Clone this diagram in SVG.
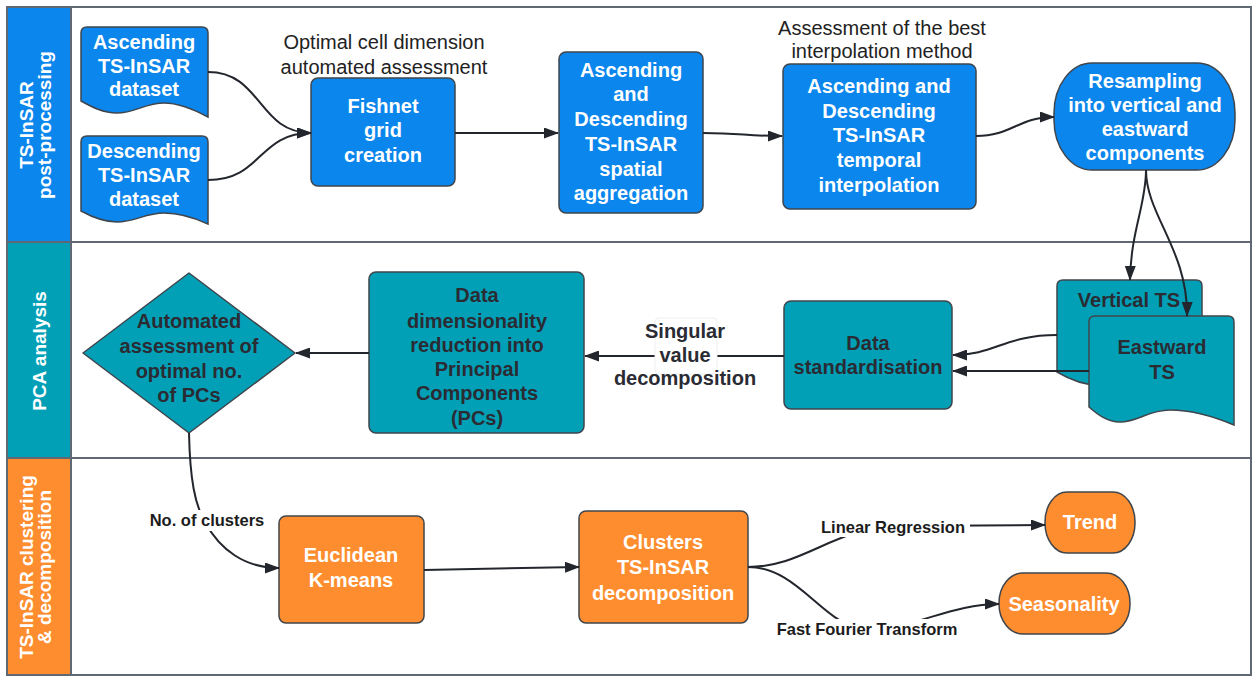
<svg xmlns="http://www.w3.org/2000/svg" width="1253" height="676" viewBox="0 0 1253 676">
<defs>
<marker id="arr" markerWidth="15" markerHeight="11" refX="14" refY="5.5" orient="auto" markerUnits="userSpaceOnUse">
<path d="M0,0 L15,5.5 L0,11 Z" fill="#23262d"/>
</marker>
<style>
.lane{fill:#ffffff;stroke:#5f6873;stroke-width:2}
.sep{stroke:#5f6873;stroke-width:2;fill:none}
.hb{fill:#0b86ec}.ht{fill:#02a0b6}.ho{fill:#fe8d2f}
.nb{fill:#0b86ec;stroke:#3f454c;stroke-width:1.5}
.nt{fill:#02a0b6;stroke:#3f454c;stroke-width:1.5}
.no{fill:#fe8d2f;stroke:#3f454c;stroke-width:1.5}
text{font-family:"Liberation Sans",Arial,sans-serif;text-anchor:middle}
.tw{fill:#ffffff;font-size:20px;font-weight:bold}
.td{fill:#2a2b33;font-size:20px;font-weight:bold}
.hd{fill:#ffffff;font-size:19px;font-weight:bold}
.lab{fill:#222222;font-size:20px}
.cl{fill:#1c1c1c;font-size:16.5px;font-weight:bold}
.c{fill:none;stroke:#23262d;stroke-width:2}
.bg{fill:#ffffff}
</style>
</defs>

<g id="lanes">
<rect class="lane" x="7" y="7" width="1244" height="668"/>
<rect class="hb" x="7" y="7" width="64" height="235"/>
<rect class="ht" x="7" y="242" width="64" height="216"/>
<rect class="ho" x="7" y="458" width="64" height="217"/>
<rect x="7" y="7" width="1244" height="668" fill="none" stroke="#5f6873" stroke-width="2"/>
<path class="sep" d="M7,242 H1251 M7,458 H1251 M71,7 V675"/>
<text class="hd" transform="translate(0,125) rotate(-90)"><tspan x="0" y="33">TS-InSAR</tspan><tspan x="0" y="51">post-processing</tspan></text>
<text class="hd" transform="translate(0,351) rotate(-90)" x="0" y="46">PCA analysis</text>
<text class="hd" transform="translate(0,567) rotate(-90)"><tspan x="0" y="33">TS-InSAR clustering</tspan><tspan x="0" y="51">&amp; decomposition</tspan></text>
</g>

<g id="asc-dataset">
<path class="nb" d="M87,27 L202,27 Q208,27 208,33 L208,117 C195,110 180,103 164,103 C145,103 135,113 117,113 C103,113 92,107 81,101 L81,33 Q81,27 87,27 Z"/>
<text class="tw"><tspan x="144" y="49">Ascending</tspan><tspan x="144" y="73">TS-InSAR</tspan><tspan x="144" y="96">dataset</tspan></text>
</g>
<g id="desc-dataset">
<path class="nb" d="M87,136 L202,136 Q208,136 208,142 L208,224 C195,218 180,213 164,213 C145,213 135,222 117,222 C103,222 92,217 81,211 L81,142 Q81,136 87,136 Z"/>
<text class="tw"><tspan x="144" y="158">Descending</tspan><tspan x="144" y="182">TS-InSAR</tspan><tspan x="144" y="206">dataset</tspan></text>
</g>
<g id="fishnet">
<text class="lab"><tspan x="384" y="49">Optimal cell dimension</tspan><tspan x="384" y="74">automated assessment</tspan></text>
<rect class="nb" x="311" y="78" width="144" height="108" rx="7"/>
<text class="tw"><tspan x="383" y="113">Fishnet</tspan><tspan x="383" y="137">grid</tspan><tspan x="383" y="162">creation</tspan></text>
</g>
<g id="spatial-aggregation">
<rect class="nb" x="559" y="52" width="144" height="161" rx="7"/>
<text class="tw"><tspan x="631" y="77">Ascending</tspan><tspan x="631" y="101">and</tspan><tspan x="631" y="126">Descending</tspan><tspan x="631" y="151">TS-InSAR</tspan><tspan x="631" y="176">spatial</tspan><tspan x="631" y="200">aggregation</tspan></text>
</g>
<g id="temporal-interpolation">
<text class="lab"><tspan x="882" y="35">Assessment of the best</tspan><tspan x="882" y="58">interpolation method</tspan></text>
<rect class="nb" x="783" y="64" width="193" height="145" rx="7"/>
<text class="tw"><tspan x="879" y="93">Ascending and</tspan><tspan x="879" y="118">Descending</tspan><tspan x="879" y="142">TS-InSAR</tspan><tspan x="879" y="167">temporal</tspan><tspan x="879" y="192">interpolation</tspan></text>
</g>
<g id="resampling">
<rect class="nb" x="1054" y="63" width="181" height="107" rx="38" ry="50"/>
<text class="tw"><tspan x="1145" y="88">Resampling</tspan><tspan x="1145" y="112">into vertical and</tspan><tspan x="1145" y="136">eastward</tspan><tspan x="1145" y="160">components</tspan></text>
</g>

<g id="vertical-ts">
<path class="nt" d="M1063,280 L1196,280 Q1202,280 1202,286 L1202,390 C1187,383 1170,375 1151,375 C1128,375 1118,385 1098,385 C1082,385 1069,379 1057,372 L1057,286 Q1057,280 1063,280 Z"/>
<text class="td" x="1129" y="307">Vertical TS</text>
</g>
<g id="eastward-ts">
<path class="nt" d="M1095,316 L1228,316 Q1234,316 1234,322 L1234,425 C1215,417 1190,410 1170,410 C1148,410 1138,422 1120,422 C1107,422 1097,414 1089,407 L1089,322 Q1089,316 1095,316 Z"/>
<text class="td"><tspan x="1162" y="354">Eastward</tspan><tspan x="1162" y="379">TS</tspan></text>
</g>
<g id="standardisation">
<rect class="nt" x="784" y="301" width="168" height="108" rx="7"/>
<text class="td"><tspan x="868" y="350">Data</tspan><tspan x="868" y="374">standardisation</tspan></text>
</g>
<g id="dimensionality-reduction">
<rect class="nt" x="369" y="272" width="215" height="161" rx="7"/>
<text class="td"><tspan x="477" y="302">Data</tspan><tspan x="477" y="328">dimensionality</tspan><tspan x="477" y="352">reduction into</tspan><tspan x="477" y="376">Principal</tspan><tspan x="477" y="400">Components</tspan><tspan x="477" y="425">(PCs)</tspan></text>
</g>
<g id="optimal-pcs">
<path class="nt" stroke-linejoin="round" d="M189,273 L295,353 L189,433 L83,353 Z"/>
<text class="td"><tspan x="189" y="328">Automated</tspan><tspan x="189" y="353">assessment of</tspan><tspan x="189" y="378">optimal no.</tspan><tspan x="189" y="402">of PCs</tspan></text>
</g>

<g id="kmeans">
<rect class="no" x="279" y="516" width="145" height="107" rx="7"/>
<text class="tw"><tspan x="351" y="562">Euclidean</tspan><tspan x="351" y="587">K-means</tspan></text>
</g>
<g id="clusters-decomposition">
<rect class="no" x="579" y="511" width="169" height="112" rx="7"/>
<text class="tw"><tspan x="663" y="549">Clusters</tspan><tspan x="663" y="574">TS-InSAR</tspan><tspan x="663" y="600">decomposition</tspan></text>
</g>
<g id="trend">
<rect class="no" x="1045" y="492" width="90" height="61" rx="22" ry="30"/>
<text class="tw" x="1090" y="529">Trend</text>
</g>
<g id="seasonality">
<rect class="no" x="999" y="573" width="131" height="61" rx="24" ry="30"/>
<text class="tw" x="1064" y="611">Seasonality</text>
</g>

<g id="connectors">
<path class="c" marker-end="url(#arr)" d="M208,72 C262,72 258,133 311,133"/>
<path class="c" marker-end="url(#arr)" d="M208,180 C262,180 258,133 311,133"/>
<path class="c" marker-end="url(#arr)" d="M455,133 L558,133"/>
<path class="c" marker-end="url(#arr)" d="M703,133 C742,133 745,136 782,136"/>
<path class="c" marker-end="url(#arr)" d="M976,136 C1012,136 1018,117 1054,117"/>
<path class="c" marker-end="url(#arr)" d="M1146,170 C1146,205 1131,230 1130,280"/>
<path class="c" marker-end="url(#arr)" d="M1146,170 C1146,215 1188,250 1187,316"/>
<path class="c" marker-end="url(#arr)" d="M1057,335 C1005,335 995,355 953,355"/>
<path class="c" marker-end="url(#arr)" d="M1089,371 L953,371"/>
<path class="c" marker-end="url(#arr)" d="M784,356 L585,356"/>
<rect x="655" y="318" width="62" height="56" rx="4" fill="#ffffff" stroke="#eeeeee" stroke-width="1"/>
<text class="td"><tspan x="685" y="338">Singular</tspan><tspan x="685" y="362">value</tspan><tspan x="685" y="385">decomposition</tspan></text>
<path class="c" marker-end="url(#arr)" d="M369,353 L296,353"/>
<path class="c" marker-end="url(#arr)" d="M189,433 C190,480 195,505 205,522 C220,550 245,568 279,568"/>
<rect class="bg" x="143" y="510" width="128" height="21"/>
<text class="cl" x="207" y="526">No. of clusters</text>
<path class="c" marker-end="url(#arr)" d="M424,570 L579,567"/>
<path class="c" marker-end="url(#arr)" d="M748,567 C805,567 835,526 900,526 L1045,525"/>
<rect class="bg" x="815" y="516" width="155" height="21"/>
<text class="cl" x="893" y="533">Linear Regression</text>
<path class="c" marker-end="url(#arr)" d="M748,567 C800,567 825,629 867,629 C915,629 950,604 999,604"/>
<rect class="bg" x="771" y="619" width="193" height="21"/>
<text class="cl" x="867" y="635">Fast Fourier Transform</text>
</g>
</svg>
